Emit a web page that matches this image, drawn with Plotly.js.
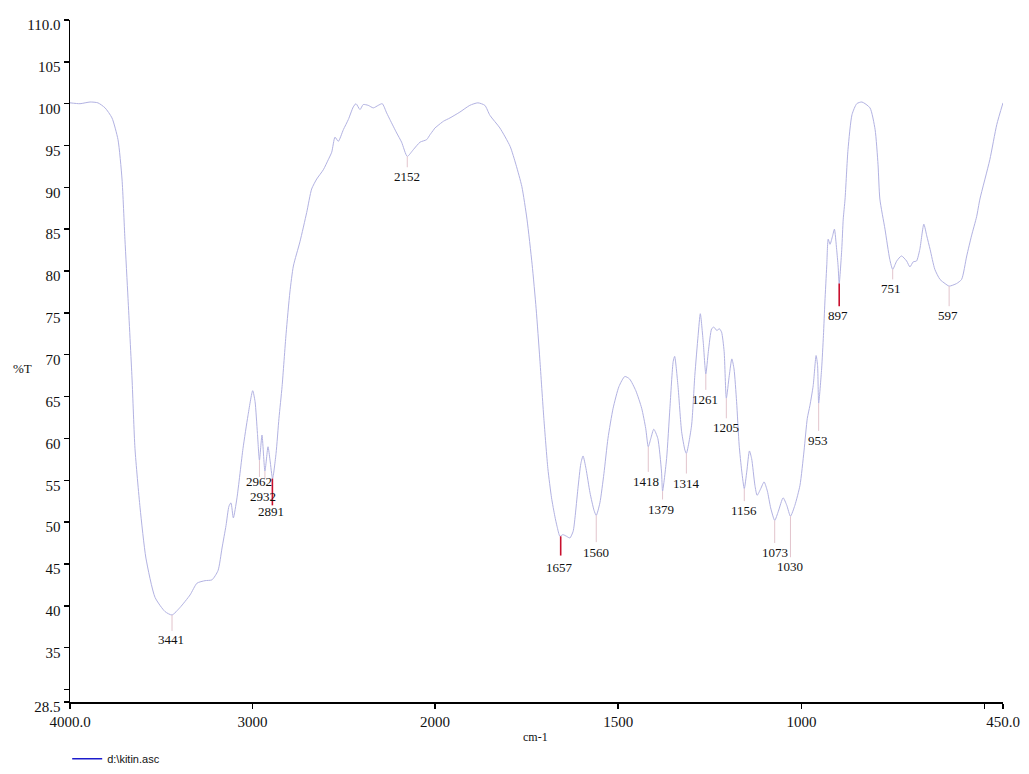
<!DOCTYPE html>
<html><head><meta charset="utf-8">
<script src="https://cdn.plot.ly/plotly-3.0.1.min.js"></script>
<style>html,body{margin:0;padding:0;background:#fff;} #chart{width:1029px;height:774px;}</style>
</head><body><div id="chart"></div>
<script>
// ---- data ----
const wavenumber = [
4000,3945,3890,3847,3808,3770,3737,3715,3699,3682,3660,3644,3616,3584,3534,3479,3441,3397,3342,3304,
3260,3222,3189,3167,3145,3129,3118,3105,3085,3052,3025,2999,2986,2973,2962,2948,2932,2915,2904,2890,
2871,2855,2838,2816,2795,2776,2740,2703,2676,2648,2612,2585,2566,2548,2530,2502,2475,2448,2433,2411,
2393,2366,2338,2311,2289,2265,2247,2210,2183,2152,2119,2082,2046,2027,2000,
1977,1959,1932,1905,1883,1864,1850,1823,1795,1779,1763,1749,1735,1724,1714,1703,1692,1682,1673,1667,
1659,1651,1641,1632,1623,1618,1610,1602,1596,1588,1577,1566,1560,1550,1539,1528,1514,1498,1482,1469,
1452,1436,1425,1418,1411,1403,1392,1382,1379,1368,1359,1350,1346,1337,1327,1318,1314,1300,1291,1282,
1276,1268,1261,1254,1245,1239,1231,1224,1218,1211,1205,1197,1190,1184,1177,1170,1163,1156,1149,1142,
1136,1127,1121,1111,1102,1093,1084,1073,1063,1050,1040,1030,1018,1004,993,984,977,968,960,956,
953,945,940,936,931,927,922,915,910,904,900,897,890,886,881,873,862,849,835,813,
799,791,786,772,759,751,740,727,713,704,695,686,677,666,658,649,636,622,608,597,
577,563,549,536,522,513,486,467,450];
const transmittance = [
100.1,100.0,100.2,100.1,99.5,98.3,95.7,91.0,83.8,76.7,67.1,58.8,51.7,45.7,41.0,39.3,38.9,39.8,41.3,42.7,
43.0,43.1,44.2,46.9,49.6,51.9,52.3,50.5,52.9,58.8,62.7,65.7,64.4,60.6,57.4,60.4,56.1,59.0,57.4,55.2,
58.2,62.4,66.2,72.5,77.5,80.6,83.5,87.0,89.8,91.0,92.1,93.3,94.2,96.0,95.5,96.9,98.1,99.6,100.0,99.3,
99.9,99.8,99.5,99.8,100.0,98.9,98.1,96.5,95.4,93.7,94.5,95.4,95.7,96.3,97.1,
97.9,98.3,99.0,99.8,100.1,99.8,98.6,97.1,94.9,92.7,90.1,86.2,80.8,75.5,69.5,62.4,56.4,52.9,50.7,49.5,
48.3,48.5,48.3,48.1,48.9,50.5,54.0,57.0,57.9,56.4,53.5,51.4,50.8,52.3,55.8,60.0,63.6,66.2,67.4,67.1,
65.7,63.6,61.2,59.0,60.0,61.1,60.0,56.1,53.7,57.6,63.6,69.2,69.8,66.3,60.8,58.6,58.2,61.5,67.5,72.3,
74.9,71.5,67.7,70.4,73.1,73.3,72.9,73.1,72.7,70.4,64.8,67.5,69.5,68.3,64.4,59.2,56.1,54.0,56.1,58.5,
57.6,54.4,53.2,54.0,54.8,53.7,51.7,50.2,51.3,52.9,52.0,50.7,52.0,54.4,58.5,62.4,63.9,66.3,69.9,68.7,
64.2,68.3,72.3,76.3,80.6,83.8,83.2,84.2,85.0,82.6,80.6,78.5,82.6,86.2,88.6,94.5,98.7,100.0,100.2,99.5,
96.9,92.7,88.6,85.0,81.4,80.2,81.2,81.8,81.2,80.5,81.1,81.2,82.6,85.6,84.2,82.6,80.2,79.0,78.5,78.2,
78.5,79.0,81.8,84.2,86.5,88.6,93.3,97.5,100.1];

const peakWavenumbers = [3441,2962,2932,2891,2152,1657,1560,1418,1379,1314,1261,1205,1156,1073,1030,953,897,751,597];
const peakTransmittance = [38.9,57.4,56.1,55.2,93.7,48.3,50.8,59.0,53.7,58.2,67.7,64.8,54.0,50.2,50.7,64.2,78.5,80.2,78.2];

const yTickVals = [28.5,30,35,40,45,50,55,60,65,70,75,80,85,90,95,100,105,110];
const yTickText = ['28.5','','35','40','45','50','55','60','65','70','75','80','85','90','95','100','105','110.0'];
const xTickValsHigh = [4000,3000,2000];
const xTickTextHigh = ['4000.0','3000','2000'];
const xTickValsLow = [1500,1000,500,450];
const xTickTextLow = ['1500','1000','','450.0'];
const seriesName = 'd:\\kitin.asc';
const xTitle = 'cm-1';
const yTitle = '%T';

// ---- label placement (layout only) ----
const labelAt = {
  3441:[3445,36.0,37.0], 2962:[2967,54.8,55.4], 2932:[2940,53.0,55.2], 2891:[2899,51.3,52.0],
  2152:[2155,91.3,92.4], 1657:[1659,44.6,46.0], 1560:[1562,46.4,47.6], 1418:[1425,54.8,56.0],
  1379:[1384,51.5,52.7], 1314:[1315,54.6,55.8], 1261:[1263,64.6,65.8], 1205:[1207,61.3,62.4],
  1156:[1156,51.4,52.5], 1073:[1072,46.4,47.5], 1030:[1031,44.7,45.8], 953:[956,59.8,60.9],
  897:[899,74.7,75.8], 751:[756,77.9,79.0], 597:[599,74.7,75.8]
};
const redPeaks = [2891,1657,897];

// ---- build ----
const BREAK = 2000;
const hiX=[],hiY=[],loX=[],loY=[];
wavenumber.forEach((w,i)=>{
  if(w>=BREAK){hiX.push(w);hiY.push(transmittance[i]);}
  if(w<=BREAK){loX.push(w);loY.push(transmittance[i]);}
});
const curveColor = '#b2b2e2';
const traces = [
  {x:hiX,y:hiY,xaxis:'x',yaxis:'y',mode:'lines',line:{color:curveColor,width:1,shape:'spline',smoothing:0.6},showlegend:false,hoverinfo:'skip'},
  {x:loX,y:loY,xaxis:'x2',yaxis:'y',mode:'lines',line:{color:curveColor,width:1,shape:'spline',smoothing:0.6},showlegend:false,hoverinfo:'skip'},
  {x:[null],y:[null],xaxis:'x',yaxis:'y',mode:'lines',name:seriesName,line:{color:'#1c1ccc',width:1.5},showlegend:true}
];

const serif = 'Liberation Serif, Times New Roman, serif';
const annotations = [];
const shapes = [];
peakWavenumbers.forEach((w,i)=>{
  const ref = w>=BREAK ? 'x' : 'x2';
  const p = labelAt[w];
  annotations.push({x:p[0],y:p[1],xref:ref,yref:'y',text:String(w),showarrow:false,
    font:{family:serif,size:13,color:'#111'},xanchor:'center',yanchor:'middle'});
  const red = redPeaks.includes(w);
  shapes.push({type:'line',xref:ref,yref:'y',x0:w,x1:w,y0:peakTransmittance[i],y1:p[2],
    line:{color: red ? '#c8102e' : '#e2c4cc', width: red ? 1.6 : 1}});
});
annotations.push({xref:'paper',yref:'paper',x:0.4984,y:-0.0513,text:xTitle,showarrow:false,
  font:{family:serif,size:12,color:'#111'},xanchor:'center',yanchor:'middle'});
annotations.push({xref:'paper',yref:'paper',x:-0.0514,y:0.4897,text:yTitle,showarrow:false,
  font:{family:serif,size:13,color:'#111'},xanchor:'center',yanchor:'middle'});

const split = 365/933;
const axisCommon = {ticks:'outside',ticklen:5,tickwidth:1.5,tickcolor:'#000',showline:true,linecolor:'#000',
  linewidth:1.5,showgrid:false,zeroline:false,tickfont:{family:serif,size:15,color:'#111'},fixedrange:true};
const layout = {
  width:1029,height:774,
  margin:{l:70,r:26,t:20,b:72,autoexpand:false},
  paper_bgcolor:'#fff',plot_bgcolor:'#fff',
  xaxis:Object.assign({},axisCommon,{domain:[0,split],range:[4000,2000],anchor:'y',tickmode:'array',tickvals:xTickValsHigh,ticktext:xTickTextHigh,automargin:false}),
  xaxis2:Object.assign({},axisCommon,{domain:[split,1],range:[2000,450],anchor:'y',tickmode:'array',tickvals:xTickValsLow,ticktext:xTickTextLow,automargin:false}),
  yaxis:Object.assign({},axisCommon,{range:[28.5,110],anchor:'x',tickmode:'array',tickvals:yTickVals,ticktext:yTickText,ticklabelshift:5,automargin:false}),
  showlegend:true,
  legend:{x:-0.003,xanchor:'left',y:-0.062,yanchor:'top',orientation:'h',bgcolor:'rgba(0,0,0,0)',
    font:{family:'Liberation Sans, Arial, sans-serif',size:11,color:'#111'}},
  annotations:annotations,
  shapes:shapes
};
Plotly.newPlot('chart',traces,layout,{displayModeBar:false,staticPlot:true});
</script>
</body></html>
